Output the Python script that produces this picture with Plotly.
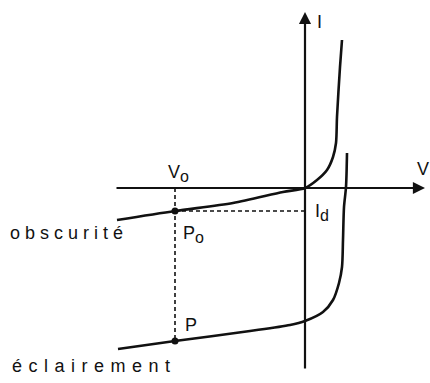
import plotly.graph_objects as go

# Characteristic in darkness (obscurité): V, I (arbitrary units)
v_dark = [-18.8, -13.0, -7.2, -2.2, 0.0, 1.2, 2.2, 2.8, 3.1, 3.2, 3.5, 3.7]
i_dark = [-3.2, -2.3, -1.5, -0.4, 0.0, 0.8, 1.8, 3.1, 4.5, 7.1, 12.1, 14.8]

# Characteristic under illumination (éclairement)
v_light = [-18.7, -13.0, -5.5, -1.5, 0.0, 1.8, 2.8, 3.4, 3.7, 3.8, 3.9, 4.1, 4.2]
i_light = [-16.1, -15.3, -14.3, -13.7, -13.3, -12.4, -11.2, -9.5, -7.9, -5.2, -1.9, 0.1, 3.5]

# Operating points
v0 = -13.0        # reverse bias V_o
i_d = -2.3        # dark current at V_o (P_o)
i_p = -15.3       # current under illumination at V_o (P)

# Axis extents
v_axis = [-19.0, 12.0]
i_axis = [-18.2, 17.6]

FONT = "Liberation Sans, Arial, sans-serif"
INK = "#111111"

fig = go.Figure()

# curves
fig.add_trace(go.Scatter(x=v_dark, y=i_dark, mode="lines",
                         line=dict(color=INK, width=2.6, shape="spline", smoothing=0.8),
                         hoverinfo="skip", showlegend=False))
fig.add_trace(go.Scatter(x=v_light, y=i_light, mode="lines",
                         line=dict(color=INK, width=2.6, shape="spline", smoothing=0.8),
                         hoverinfo="skip", showlegend=False))

# dashed construction lines
fig.add_trace(go.Scatter(x=[v0, v0], y=[0, i_p], mode="lines",
                         line=dict(color=INK, width=1.6, dash="4px,3px"),
                         hoverinfo="skip", showlegend=False))
fig.add_trace(go.Scatter(x=[v0, 0], y=[i_d, i_d], mode="lines",
                         line=dict(color=INK, width=1.6, dash="4px,3px"),
                         hoverinfo="skip", showlegend=False))

# points P_o and P
fig.add_trace(go.Scatter(x=[v0, v0], y=[i_d, i_p], mode="markers",
                         marker=dict(color=INK, size=7),
                         hoverinfo="skip", showlegend=False))

annotations = []
# V axis with arrow
annotations.append(dict(x=v_axis[1], y=0, ax=v_axis[0], ay=0, xref="x", yref="y",
                        axref="x", ayref="y", text="", showarrow=True,
                        arrowhead=2, arrowsize=1.1, arrowwidth=2.2, arrowcolor=INK))
# I axis with arrow
annotations.append(dict(x=0, y=i_axis[1], ax=0, ay=i_axis[0], xref="x", yref="y",
                        axref="x", ayref="y", text="", showarrow=True,
                        arrowhead=2, arrowsize=1.1, arrowwidth=2.2, arrowcolor=INK))

def label(text, x, y, size=18, xanchor="left", yanchor="middle"):
    annotations.append(dict(x=x, y=y, xref="x", yref="y", text=text, showarrow=False,
                            xanchor=xanchor, yanchor=yanchor, align="left",
                            font=dict(family=FONT, size=size, color=INK)))

SUB = '<sub><span style="font-size:16px">{}</span></sub>'

label("I", 1.0, 16.6)
label("V", 11.0, 1.9)
label("V" + SUB.format("o"), -13.9, 1.5)
label("P" + SUB.format("o"), -12.4, -4.6)
label("P", -12.2, -13.7)
label("I" + SUB.format("d"), 0.8, -2.4)
label("obscurité", -29.7, -4.5)
label("éclairement", -29.5, -17.8)

fig.update_layout(
    width=430, height=383, autosize=False,
    margin=dict(l=0, r=0, t=0, b=0),
    paper_bgcolor="white", plot_bgcolor="white",
    xaxis=dict(range=[-30.5, 12.5], visible=False, fixedrange=True),
    yaxis=dict(range=[-19.5, 18.8], visible=False, fixedrange=True),
    annotations=annotations,
)

post = """
document.body.style.margin = '0';
document.body.style.overflow = 'hidden';
document.querySelectorAll('.annotation-text').forEach(function(t){
  var s = t.textContent;
  if (s === 'obscurité') { t.style.letterSpacing = '5px'; }
  if (s === 'éclairement') { t.style.letterSpacing = '6.5px'; }
});
"""

fig.write_html("out.html", post_script=post, config={"displayModeBar": False})
